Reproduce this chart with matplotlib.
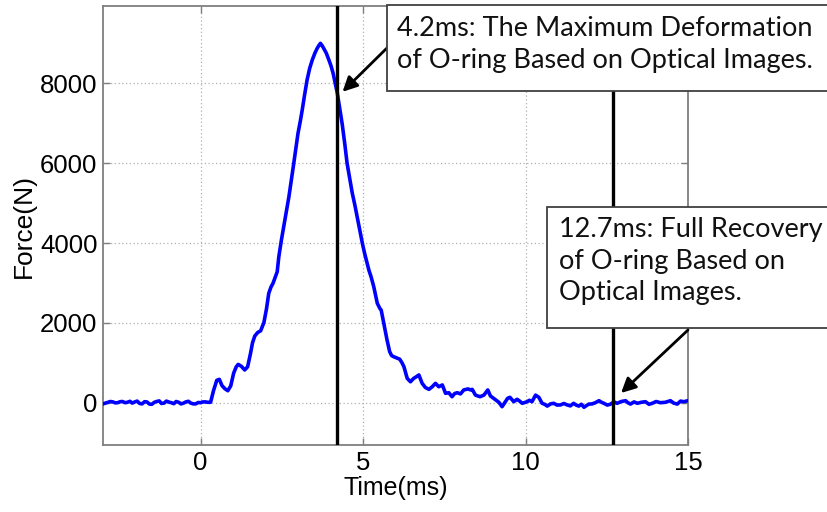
import matplotlib
matplotlib.use("Agg")
import matplotlib.pyplot as plt
from matplotlib.patches import Rectangle
import numpy as np

# Measured contact force vs time
time_ms = [
    -3.00, -2.92, -2.85, -2.77, -2.70, -2.62, -2.55, -2.47, -2.40, -2.32,
    -2.25, -2.17, -2.10, -2.02, -1.95, -1.87, -1.80, -1.72, -1.65, -1.57,
    -1.50, -1.42, -1.35, -1.27, -1.20, -1.12, -1.05, -0.97, -0.90, -0.82,
    -0.75, -0.67, -0.60, -0.52, -0.45, -0.37, -0.30, -0.22, -0.15, -0.07,
    0.00, 0.08, 0.15, 0.23, 0.31, 0.40, 0.50, 0.58, 0.66, 0.75, 0.84,
    0.93, 1.02, 1.10, 1.16, 1.26, 1.36, 1.45, 1.54, 1.60, 1.67, 1.76,
    1.85, 1.95, 2.03, 2.10, 2.17, 2.23, 2.30, 2.36, 2.41, 2.49, 2.56,
    2.64, 2.72, 2.80, 2.87, 2.94, 3.00, 3.07, 3.13, 3.20, 3.28, 3.36,
    3.44, 3.52, 3.59, 3.65, 3.69, 3.74, 3.79, 3.87, 3.95, 4.02, 4.08,
    4.14, 4.21, 4.28, 4.36, 4.44, 4.51, 4.59, 4.67, 4.75, 4.82, 4.90,
    4.98, 5.05, 5.13, 5.18, 5.25, 5.33, 5.44, 5.52, 5.56, 5.64, 5.74,
    5.82, 5.88, 5.95, 6.04, 6.13, 6.20, 6.26, 6.36, 6.46, 6.56, 6.64,
    6.72, 6.82, 6.92, 7.03, 7.13, 7.23, 7.33, 7.44, 7.54, 7.64, 7.74,
    7.82, 7.90, 8.00, 8.10, 8.23, 8.31, 8.36, 8.46, 8.60, 8.72, 8.84,
    8.92, 9.00, 9.08, 9.18, 9.28, 9.38, 9.45, 9.52, 9.64, 9.74, 9.82,
    9.90, 10.05, 10.12, 10.20, 10.31, 10.41, 10.51, 10.59, 10.67, 10.77,
    10.87, 10.97, 11.08, 11.18, 11.28, 11.38, 11.48, 11.56, 11.64, 11.72,
    11.80, 11.88, 11.95, 12.05, 12.15, 12.26, 12.34, 12.41, 12.52, 12.62,
    12.72, 12.82, 12.95, 13.08, 13.15, 13.23, 13.34, 13.44, 13.56, 13.69,
    13.80, 13.90, 14.02, 14.15, 14.30, 14.46, 14.56, 14.67, 14.77, 14.87,
    15.00,
]
force_n = [
    -30, -10, 10, 30, 20, -5, 0, 25, 30, 0,
    10, 35, -10, 20, 40, -20, -30, 25, 20, -35,
    -40, 10, 30, 45, -20, -10, 40, 15, 0, -25,
    30, 10, -30, -10, 20, 35, -10, -30, -30, 5,
    0, 20, 20, 10, 10, 300, 560, 585, 430, 350, 300,
    420, 740, 900, 960, 910, 820, 900, 1240, 1500, 1670, 1760,
    1800, 2005, 2350, 2740, 2900, 2990, 3150, 3280, 3660, 4080, 4410,
    4800, 5160, 5600, 6000, 6400, 6750, 7050, 7335, 7700, 8090, 8380,
    8590, 8760, 8880, 8960, 9005, 8950, 8880, 8760, 8590, 8430, 8255,
    8030, 7755, 7400, 6980, 6480, 6000, 5620, 5250, 4950, 4660, 4320,
    3995, 3740, 3490, 3325, 3150, 2910, 2490, 2360, 2320, 1990, 1570,
    1280, 1180, 1150, 1120, 1090, 1000, 900, 610, 525, 610, 650,
    695, 485, 380, 335, 400, 485, 400, 445, 235, 250, 150,
    230, 250, 220, 320, 345, 320, 335, 190, 150, 190, 320,
    170, 120, 70, 10, -100, 25, 110, 135, 25, 85, 40,
    -15, 25, 60, 25, 190, 135, -15, -40, -85, -30,
    -15, -60, -55, -20, -55, -80, -15, -60, -85, -40,
    -115, -70, -35, -30, 0, 50, 10, -15, -60, -35,
    20, -15, 30, 50, 0, -35, 20, -15, 10, 25,
    -40, -15, 30, 0, 10, 50, -10, -35, 40, 25,
    50,
]

x_ticks = [0, 5, 10, 15]
y_ticks = [0, 2000, 4000, 6000, 8000]
marker_times = [4.2, 12.7]

W, H, DPI = 827, 512, 100
fig = plt.figure(figsize=(W / DPI, H / DPI), dpi=DPI)
ax = fig.add_axes([103 / W, 1 - 445 / H, (688 - 103) / W, (445 - 6) / H])

frame_col = "#7f7f7f"
ax.plot(time_ms, force_n, color="#0000ff", lw=2.6, zorder=3)
for t in marker_times:
    ax.axvline(t, color="black", lw=2.4, zorder=4)

ax.set_xlim(-3, 15)
ax.set_ylim(-1060, 9940)
ax.set_xticks(x_ticks)
ax.set_yticks(y_ticks)
ax.grid(True, color="#b0b0b0", linestyle=(0, (1, 2)), lw=0.9)
for s in ax.spines.values():
    s.set_color(frame_col)
    s.set_linewidth(1.3)
ax.tick_params(direction="in", length=5, color=frame_col, width=1.0,
               top=True, right=True, labelsize=18.5, pad=4)
for lab in ax.get_xticklabels() + ax.get_yticklabels():
    lab.set_family("Liberation Sans")
ax.set_xlabel("Time(ms)", family="Liberation Sans", fontsize=18, labelpad=1)
ax.set_ylabel("Force(N)", family="Liberation Sans", fontsize=19, labelpad=3)

# Callout boxes
def fx(px):
    return px / W

def fy(py):
    return 1 - py / H

box_kw = dict(transform=fig.transFigure, facecolor="white",
              edgecolor="#404040", lw=1.3, zorder=5, clip_on=False)
fig.add_artist(Rectangle((fx(387), fy(91)), fx(900) - fx(387), fy(5) - fy(91), **box_kw))
fig.add_artist(Rectangle((fx(547), fy(328)), fx(900) - fx(547), fy(207) - fy(328), **box_kw))

txt_kw = dict(family="Lato", fontsize=19.5, color="#111111", zorder=6,
              va="top", ha="left", linespacing=1.33)
fig.text(fx(397), fy(16), "4.2ms: The Maximum Deformation\nof O-ring Based on Optical Images.", **txt_kw)
fig.text(fx(559), fy(217), "12.7ms: Full Recovery\nof O-ring Based on\nOptical Images.", **txt_kw)

arrow_kw = dict(arrowstyle="-|>", color="black", lw=2.0, mutation_scale=22,
                shrinkA=0, shrinkB=0)
ax.annotate("", xy=(4.37, 7790), xytext=(fx(388), fy(47)),
            textcoords="figure fraction", arrowprops=arrow_kw, annotation_clip=False)
ax.annotate("", xy=(12.94, 243), xytext=(fx(688), fy(330)),
            textcoords="figure fraction", arrowprops=arrow_kw, annotation_clip=False)

fig.savefig("out.png", dpi=DPI)
